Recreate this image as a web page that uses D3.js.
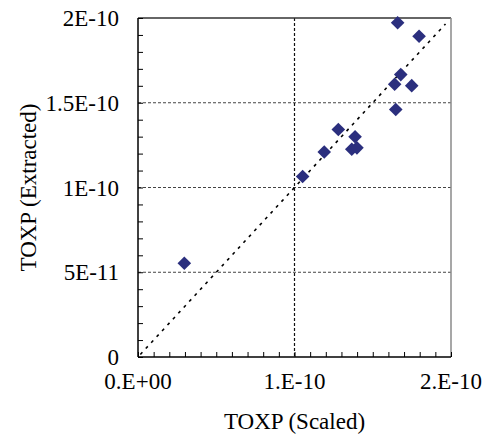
<!DOCTYPE html>
<html>
<head>
<meta charset="utf-8">
<script src="https://cdn.jsdelivr.net/npm/d3@7"></script>
<style>
  body { margin: 0; background: #fff; }
</style>
</head>
<body>
<svg id="chart" width="494" height="441"></svg>
<script>
// values in units of 1E-10
const scaledX = [1.659, 1.796, 1.679, 1.640, 1.749, 1.647, 1.280, 1.387, 1.366, 1.399, 1.190, 1.052, 0.296];
const extractedY = [1.972, 1.892, 1.666, 1.609, 1.601, 1.460, 1.342, 1.299, 1.226, 1.234, 1.209, 1.065, 0.553];
const xTickValues = [0, 1, 2];
const xTickLabels = ['0.E+00', '1.E-10', '2.E-10'];
const yTickValues = [0, 0.5, 1, 1.5, 2];
const yTickLabels = ['0', '5E-11', '1E-10', '1.5E-10', '2E-10'];
const fitLine = [[0.015, 0.015], [1.965, 1.965]];

const font = '"Liberation Serif", "DejaVu Serif", serif';
const margin = { top: 18, right: 43, bottom: 84, left: 138 };
const width = 494 - margin.left - margin.right;
const height = 441 - margin.top - margin.bottom;

const xScale = d3.scaleLinear().domain([0, 2]).range([0, width]);
const yScale = d3.scaleLinear().domain([0, 2]).range([height, 0]);

const svg = d3.select('svg#chart')
    .append('g')
    .attr('transform', `translate(${margin.left}, ${margin.top})`);

// gridlines
svg.selectAll('.hgrid')
    .data([0.5, 1, 1.5])
    .enter()
    .append('line')
    .attr('x1', 0)
    .attr('x2', width)
    .attr('y1', d => yScale(d))
    .attr('y2', d => yScale(d))
    .attr('stroke', '#444')
    .attr('stroke-width', 1)
    .attr('stroke-dasharray', '3,2');

svg.append('line')
    .attr('x1', xScale(1))
    .attr('x2', xScale(1))
    .attr('y1', 0)
    .attr('y2', height)
    .attr('stroke', '#111')
    .attr('stroke-width', 1.2)
    .attr('stroke-dasharray', '3,2');

// plot border (top and right)
svg.append('line')
    .attr('x1', 0).attr('x2', width)
    .attr('y1', 0).attr('y2', 0)
    .attr('stroke', '#333').attr('stroke-width', 1.5);
svg.append('line')
    .attr('x1', width).attr('x2', width)
    .attr('y1', 0).attr('y2', height)
    .attr('stroke', '#8a8a8a').attr('stroke-width', 1.5);

// axes with inner minor ticks
const xAxis = d3.axisTop(xScale)
    .tickValues(d3.range(0, 21).map(i => i / 10))
    .tickSize(5)
    .tickFormat('');
const yAxis = d3.axisRight(yScale)
    .tickValues(d3.range(0, 21).map(i => i / 10))
    .tickSize(5)
    .tickFormat('');

svg.append('g')
    .attr('transform', `translate(0, ${height})`)
    .call(xAxis)
    .call(g => g.select('.domain').attr('d', `M0,0H${width}`).attr('stroke-width', 1.5));

svg.append('g')
    .call(yAxis)
    .call(g => g.select('.domain').attr('d', `M0,0V${height}`).attr('stroke-width', 1.5));

// y = x reference line
svg.append('line')
    .attr('x1', xScale(fitLine[0][0]))
    .attr('y1', yScale(fitLine[0][1]))
    .attr('x2', xScale(fitLine[1][0]))
    .attr('y2', yScale(fitLine[1][1]))
    .attr('stroke', '#000')
    .attr('stroke-width', 1.6)
    .attr('stroke-dasharray', '3,5');

// data points as diamonds
const diamond = 'M0,-6.8L6.8,0L0,6.8L-6.8,0Z';
svg.selectAll('.pt')
    .data(scaledX.map((x, i) => [x, extractedY[i]]))
    .enter()
    .append('path')
    .attr('d', diamond)
    .attr('transform', d => `translate(${xScale(d[0])}, ${yScale(d[1])})`)
    .attr('fill', '#2b2f7e');

// tick labels
svg.selectAll('.xlab')
    .data(xTickValues)
    .enter()
    .append('text')
    .attr('x', d => xScale(d))
    .attr('y', height + 32)
    .attr('text-anchor', 'middle')
    .attr('font-family', font)
    .attr('font-size', 23)
    .text((d, i) => xTickLabels[i]);

svg.selectAll('.ylab')
    .data(yTickValues)
    .enter()
    .append('text')
    .attr('x', -19)
    .attr('y', d => yScale(d))
    .attr('dy', '0.35em')
    .attr('text-anchor', 'end')
    .attr('font-family', font)
    .attr('font-size', 23)
    .text((d, i) => yTickLabels[i]);

// axis titles
svg.append('text')
    .attr('x', width / 2)
    .attr('y', height + 72)
    .attr('text-anchor', 'middle')
    .attr('font-family', font)
    .attr('font-size', 23)
    .text('TOXP (Scaled)');

svg.append('text')
    .attr('transform', `translate(${28 - margin.left}, ${height / 2}) rotate(-90)`)
    .attr('text-anchor', 'middle')
    .attr('dy', '0.35em')
    .attr('font-family', font)
    .attr('font-size', 23)
    .text('TOXP (Extracted)');
</script>
</body>
</html>
